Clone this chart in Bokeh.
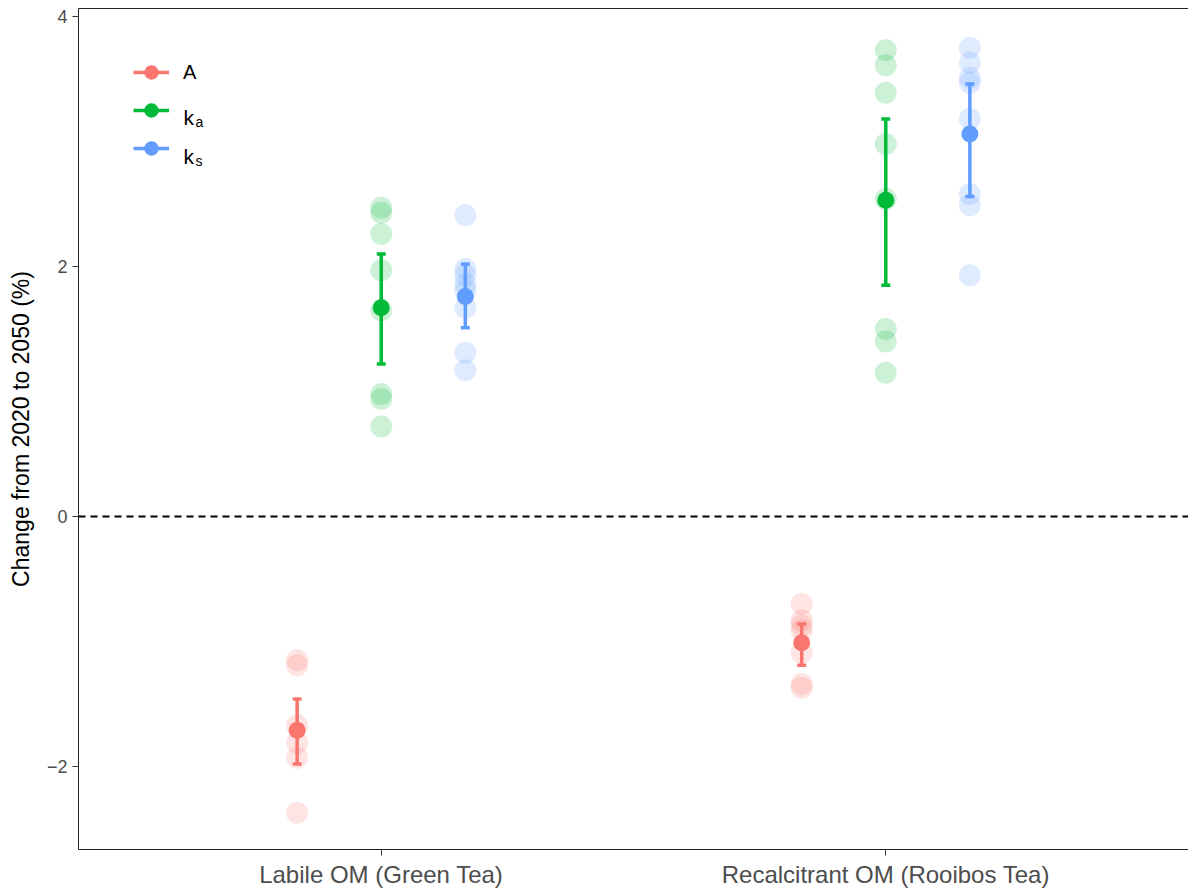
from bokeh.plotting import figure
from bokeh.models import (ColumnDataSource, Range1d, FixedTicker, Span, Legend,
                          LegendItem, Label, LinearAxis)
from bokeh.transform import dodge
from bokeh.embed import file_html
from bokeh.resources import INLINE

# ---------------- data ----------------
categories = ["Labile OM (Green Tea)", "Recalcitrant OM (Rooibos Tea)"]
params = ["A", "ka", "ks"]

# individual observations (change in %)
A_labile = [-1.15, -1.19, -1.67, -1.81, -1.93, -2.37]
A_recalc = [-0.70, -0.83, -0.87, -0.91, -1.09, -1.34, -1.37]
ka_labile = [2.47, 2.43, 2.26, 1.97, 1.65, 0.98, 0.94, 0.72]
ka_recalc = [3.73, 3.61, 3.39, 2.98, 2.54, 1.50, 1.40, 1.15]
ks_labile = [2.41, 1.98, 1.93, 1.86, 1.81, 1.67, 1.31, 1.17]
ks_recalc = [3.75, 3.63, 3.51, 3.47, 3.18, 2.58, 2.49, 1.93]

# summary: mean and interval per category
A_mean = [-1.71, -1.01]
A_low = [-1.98, -1.19]
A_high = [-1.46, -0.86]
ka_mean = [1.67, 2.53]
ka_low = [1.22, 1.85]
ka_high = [2.10, 3.18]
ks_mean = [1.76, 3.06]
ks_low = [1.51, 2.56]
ks_high = [2.02, 3.46]

y_ticks = [-2, 0, 2, 4]
reference_value = 0

# ---------------- style ----------------
COLORS = {"A": "#F8766D", "ka": "#00BA38", "ks": "#619CFF"}
OFFSETS = {"A": -1 / 6, "ka": 0.0, "ks": 1 / 6}
FONT = "Liberation Sans"
AXIS_COLOR = "#222222"

obs = {"A": [A_labile, A_recalc], "ka": [ka_labile, ka_recalc], "ks": [ks_labile, ks_recalc]}
summ = {"A": (A_mean, A_low, A_high), "ka": (ka_mean, ka_low, ka_high),
        "ks": (ks_mean, ks_low, ks_high)}
cat_pos = list(range(1, len(categories) + 1))

p = figure(width=1188, height=890, output_backend="svg", toolbar_location=None,
           x_range=Range1d(0.4, 2.6), y_range=Range1d(-2.664, 4.064),
           min_border_left=78, min_border_right=0, min_border_top=8,
           min_border_bottom=41)
p.xgrid.visible = False
p.ygrid.visible = False
p.outline_line_color = None
p.background_fill_color = "white"
p.border_fill_color = "white"

xax = p.below[0]
yax = p.left[0]

p.add_layout(Span(location=reference_value, dimension="width", line_color="black",
                  line_width=2, line_dash="7 5"))

legend_items = []
for prm in params:
    c = COLORS[prm]
    xs, ys = [], []
    for pos, vals in zip(cat_pos, obs[prm]):
        xs += [pos] * len(vals)
        ys += vals
    src_raw = ColumnDataSource(dict(x=xs, y=ys))
    r_raw = p.scatter(x=dodge("x", OFFSETS[prm]), y="y", source=src_raw, size=22,
                      fill_color=c, fill_alpha=0.2, line_color=None)
    m, lo, hi = summ[prm]
    src_s = ColumnDataSource(dict(x=cat_pos, mean=m, low=lo, high=hi))
    r_bar = p.segment(x0=dodge("x", OFFSETS[prm]), x1=dodge("x", OFFSETS[prm]),
                      y0="low", y1="high", source=src_s, line_color=c, line_width=3.5)
    p.scatter(x=dodge("x", OFFSETS[prm]), y="low", source=src_s, marker="dash",
              size=9, line_color=c, line_width=3.5)
    p.scatter(x=dodge("x", OFFSETS[prm]), y="high", source=src_s, marker="dash",
              size=9, line_color=c, line_width=3.5)
    r_mean = p.scatter(x=dodge("x", OFFSETS[prm]), y="mean", source=src_s, size=17,
                       fill_color=c, line_color=None)
    label = "A" if prm == "A" else " "
    legend_items.append(LegendItem(label=label, renderers=[r_raw, r_bar, r_mean]))

legend = Legend(items=legend_items, location=(55, 683), glyph_width=36, glyph_height=36,
                label_height=36, spacing=2, padding=0, margin=0, border_line_color=None,
                background_fill_alpha=0, label_standoff=14,
                label_text_font_size="20px", label_text_font=FONT,
                label_text_color="black")
p.add_layout(legend)

# legend labels with subscripts: k_a, k_s
for main, sub, ym, ys_ in (("k", "a", 732, 728), ("k", "s", 693, 689)):
    p.add_layout(Label(x=105, y=ym, x_units="screen", y_units="screen", text=main,
                       text_font_size="21px", text_font=FONT, text_color="black",
                       text_baseline="middle"))
    p.add_layout(Label(x=117, y=ys_, x_units="screen", y_units="screen", text=sub,
                       text_font_size="14px", text_font=FONT, text_color="black",
                       text_baseline="middle"))

# axes
xax.ticker = FixedTicker(ticks=cat_pos)
xax.major_label_overrides = {pos: name for pos, name in zip(cat_pos, categories)}
yax.ticker = FixedTicker(ticks=y_ticks)
yax.major_label_overrides = {t: str(t).replace("-", "\u2212") for t in y_ticks}
yax.axis_label = "Change from 2020 to 2050 (%)"
for ax in (xax, yax):
    ax.axis_line_color = AXIS_COLOR
    ax.axis_line_width = 1
    ax.major_tick_line_color = "#333333"
    ax.major_tick_in = 0
    ax.major_tick_out = 6
    ax.minor_tick_line_color = None
    ax.major_label_text_color = "#4D4D4D"
    ax.major_label_text_font = FONT
xax.major_label_text_font_size = "24px"
xax.major_label_standoff = 5
yax.major_label_text_font_size = "18px"
yax.major_label_standoff = 5
yax.axis_label_text_font = FONT
yax.axis_label_text_font_size = "23px"
yax.axis_label_text_font_style = "normal"
yax.axis_label_text_color = "black"
yax.axis_label_standoff = 10

# top frame line
top_axis = LinearAxis(ticker=FixedTicker(ticks=[]), axis_line_color=AXIS_COLOR,
                      axis_line_width=1, major_tick_in=0, major_tick_out=0,
                      minor_tick_line_color=None, major_label_text_font_size="0px",
                      major_label_standoff=0)
p.add_layout(top_axis, "above")

open("out.html", "w").write(file_html(p, INLINE))
